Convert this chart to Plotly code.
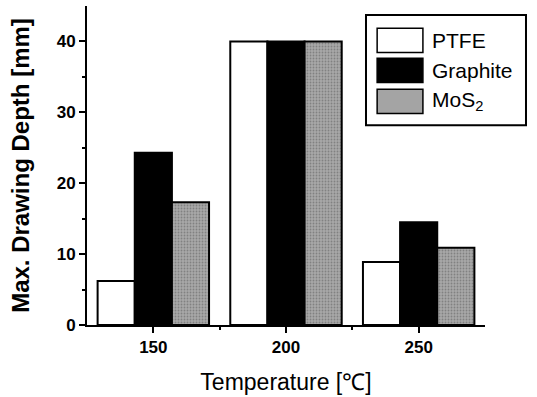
import plotly.graph_objects as go

temperatures = [150, 200, 250]
x_tick_labels = ["150", "200", "250"]
y_tick_values = [0, 10, 20, 30, 40]
y_tick_labels = ["0", "10", "20", "30", "40"]
series_names = ["PTFE", "Graphite", "MoS<sub>2</sub>"]
ptfe = [6.2, 40.0, 8.9]
graphite = [24.3, 40.0, 14.5]
mos2 = [17.3, 40.0, 10.9]

fills = ["white", "black", "#a4a4a4"]

fig = go.Figure()
fig.add_trace(go.Bar(x=temperatures, y=ptfe, name=series_names[0],
                     marker=dict(color=fills[0], line=dict(color="black", width=2))))
fig.add_trace(go.Bar(x=temperatures, y=graphite, name=series_names[1],
                     marker=dict(color=fills[1], line=dict(color="black", width=2))))
fig.add_trace(go.Bar(x=temperatures, y=mos2, name=series_names[2],
                     marker=dict(color=fills[2], line=dict(color="black", width=2),
                                 pattern=dict(shape=".", fgcolor="#5a5a5a", bgcolor="#a8a8a8",
                                              size=3, solidity=0.3))))

# custom legend (large swatches as in the reference)
shapes = [dict(type="rect", xref="paper", yref="paper", x0=0.701, x1=1.103, y0=0.626, y1=0.972,
               line=dict(color="black", width=2), fillcolor="white", layer="above")]
annotations = []
sw_top = [0.930, 0.836, 0.739]
for i, name in enumerate(series_names):
    y1 = sw_top[i]
    y0 = y1 - 0.076
    shapes.append(dict(type="rect", xref="paper", yref="paper", x0=0.729, x1=0.844, y0=y0, y1=y1,
                       line=dict(color="black", width=1.5), fillcolor=fills[i], layer="above"))
    annotations.append(dict(xref="paper", yref="paper", x=0.862, y=(y0 + y1) / 2,
                            xanchor="left", yanchor="middle", text=name, showarrow=False,
                            font=dict(size=21, color="black")))

fig.update_layout(
    width=537, height=397,
    margin=dict(l=87, r=52, t=6, b=72),
    paper_bgcolor="white", plot_bgcolor="white",
    barmode="group", bargap=0.16, bargroupgap=0,
    font=dict(family="Liberation Sans, Arial", color="black"),
    showlegend=False,
    shapes=shapes, annotations=annotations,
    xaxis=dict(range=[125, 275], tickvals=temperatures,
               ticktext=["<b>%s</b>" % t for t in x_tick_labels],
               ticks="outside", ticklen=6, tickwidth=2, tickcolor="black",
               showline=True, linecolor="black", linewidth=2, showgrid=False, zeroline=False,
               minor=dict(tickvals=[175, 225], ticks="outside", ticklen=3, tickwidth=1.5, tickcolor="black"),
               tickfont=dict(size=17), automargin=False,
               title=dict(text="Temperature [℃]", font=dict(size=23), standoff=17)),
    yaxis=dict(range=[0, 45], tickvals=y_tick_values,
               ticktext=["<b>%s</b>" % t for t in y_tick_labels],
               ticks="outside", ticklen=6, tickwidth=2, tickcolor="black",
               showline=True, linecolor="black", linewidth=2, showgrid=False, zeroline=False,
               minor=dict(tickvals=[5, 15, 25, 35], ticks="outside", ticklen=3, tickwidth=1.5, tickcolor="black"),
               tickfont=dict(size=17), automargin=False,
               title=dict(text="<b>Max. Drawing Depth [mm]</b>", font=dict(size=24), standoff=20)),
)

fig.write_html("out.html", config={"displayModeBar": False},
               post_script="document.body.style.margin='0';")
